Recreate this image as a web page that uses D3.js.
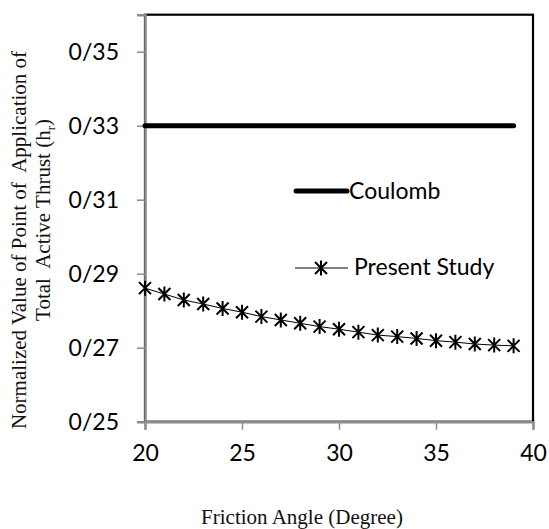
<!DOCTYPE html>
<html>
<head>
<meta charset="utf-8">
<script src="https://cdn.jsdelivr.net/npm/d3@7"></script>
<style>
    body { margin: 0; background: #fff; }
    svg { display: block; }
</style>
</head>
<body>
<div id="chart"></div>
<script>
// Data
const frictionAngles = [20, 21, 22, 23, 24, 25, 26, 27, 28, 29, 30, 31, 32, 33, 34, 35, 36, 37, 38, 39];
const coulombValues = [0.33, 0.33, 0.33, 0.33, 0.33, 0.33, 0.33, 0.33, 0.33, 0.33,
                       0.33, 0.33, 0.33, 0.33, 0.33, 0.33, 0.33, 0.33, 0.33, 0.33];
const presentStudyValues = [0.2861, 0.2845, 0.2829, 0.2818, 0.2806, 0.2796, 0.2784, 0.2775, 0.2766, 0.2757,
                            0.2750, 0.2742, 0.2734, 0.2730, 0.2725, 0.2719, 0.2715, 0.2710, 0.2707, 0.2705];
const xTicks = [20, 25, 30, 35, 40];
const yTicks = [0.25, 0.27, 0.29, 0.31, 0.33, 0.35];
const seriesNames = ['Coulomb', 'Present Study'];

const width = 549, height = 529;
const plot = { left: 145, right: 533, top: 14.7, bottom: 421.7 };

const svg = d3.select('#chart')
    .append('svg')
    .attr('width', width)
    .attr('height', height);

const x = d3.scaleLinear().domain([20, 40]).range([plot.left, plot.right]);
const y = d3.scaleLinear().domain([0.25, 0.36]).range([plot.bottom, plot.top]);

const tickFont = 'Lato, "Open Sans", sans-serif';
const fmt = v => d3.format('.2f')(v).replace('.', '/');

// Plot area border (top/right black)
svg.append('rect')
    .attr('x', plot.left)
    .attr('y', plot.top)
    .attr('width', plot.right - plot.left)
    .attr('height', plot.bottom - plot.top)
    .attr('fill', 'none')
    .attr('stroke', '#000')
    .attr('stroke-width', 2.2);

// Y axis
const yAxis = svg.append('g')
    .attr('transform', `translate(${plot.left},0)`)
    .call(d3.axisLeft(y).tickValues(yTicks).tickFormat(fmt).tickSize(8).tickPadding(18));
yAxis.select('.domain').attr('stroke', '#8c8c8c').attr('stroke-width', 2.5);
yAxis.selectAll('.tick line').attr('stroke', '#8c8c8c').attr('stroke-width', 1.5);
yAxis.selectAll('.tick text')
    .style('font-family', tickFont)
    .style('font-size', '23px')
    .attr('fill', '#000');

// X axis
const xAxis = svg.append('g')
    .attr('transform', `translate(0,${plot.bottom})`)
    .call(d3.axisBottom(x).tickValues(xTicks).tickFormat(d3.format('d')).tickSize(8).tickPadding(15));
xAxis.select('.domain').attr('stroke', '#8c8c8c').attr('stroke-width', 2.5);
xAxis.selectAll('.tick line').attr('stroke', '#8c8c8c').attr('stroke-width', 1.5);
xAxis.selectAll('.tick text')
    .style('font-family', tickFont)
    .style('font-size', '23px')
    .attr('fill', '#000');

// Coulomb series
const line = d3.line().x(d => x(d[0])).y(d => y(d[1]));
svg.append('path')
    .datum(frictionAngles.map((a, i) => [a, coulombValues[i]]))
    .attr('d', line)
    .attr('fill', 'none')
    .attr('stroke', '#000')
    .attr('stroke-width', 5)
    .attr('stroke-linecap', 'round');

// Present study series
const presentData = frictionAngles.map((a, i) => [a, presentStudyValues[i]]);
svg.append('path')
    .datum(presentData)
    .attr('d', line)
    .attr('fill', 'none')
    .attr('stroke', '#000')
    .attr('stroke-width', 1);

// Star marker (X plus vertical bar)
const starPath = 'M-6,-6L6,6M-6,6L6,-6M0,-7.5L0,7.5';
svg.selectAll('.marker')
    .data(presentData)
    .enter()
    .append('path')
    .attr('class', 'marker')
    .attr('transform', d => `translate(${x(d[0])},${y(d[1])})`)
    .attr('d', starPath)
    .attr('fill', 'none')
    .attr('stroke', '#000')
    .attr('stroke-width', 2);

// Legend
const legend = svg.append('g');
legend.append('line')
    .attr('x1', 296).attr('x2', 347)
    .attr('y1', 191).attr('y2', 191)
    .attr('stroke', '#000')
    .attr('stroke-width', 5)
    .attr('stroke-linecap', 'round');
legend.append('text')
    .attr('x', 349).attr('y', 199)
    .style('font-family', tickFont)
    .style('font-size', '23px')
    .text(seriesNames[0]);

legend.append('line')
    .attr('x1', 295).attr('x2', 348)
    .attr('y1', 268).attr('y2', 268)
    .attr('stroke', '#000')
    .attr('stroke-width', 1);
legend.append('path')
    .attr('transform', 'translate(321,268)')
    .attr('d', starPath)
    .attr('fill', 'none')
    .attr('stroke', '#000')
    .attr('stroke-width', 2);
legend.append('text')
    .attr('x', 354).attr('y', 275)
    .style('font-family', tickFont)
    .style('font-size', '23px')
    .text(seriesNames[1]);

// Axis titles
const titleFont = '"Liberation Serif", "Times New Roman", serif';
svg.append('text')
    .attr('x', 302).attr('y', 524)
    .attr('text-anchor', 'middle')
    .style('font-family', titleFont)
    .style('font-size', '21px')
    .attr('fill', '#111')
    .text('Friction Angle (Degree)');

const yTitle = svg.append('text')
    .attr('transform', 'translate(0,240) rotate(-90)')
    .attr('text-anchor', 'middle')
    .attr('xml:space', 'preserve')
    .style('white-space', 'pre')
    .style('font-family', titleFont)
    .style('font-size', '21px')
    .attr('fill', '#111');
yTitle.append('tspan')
    .attr('x', 0).attr('y', 26)
    .text('Normalized Value of Point of  Application of');
const line2 = yTitle.append('tspan')
    .attr('x', 20).attr('y', 50);
line2.text('Total  Active Thrust (h');
line2.append('tspan').attr('dy', 5).style('font-size', '13px').text('r');
line2.append('tspan').attr('dy', -5).text(')');
</script>
</body>
</html>
